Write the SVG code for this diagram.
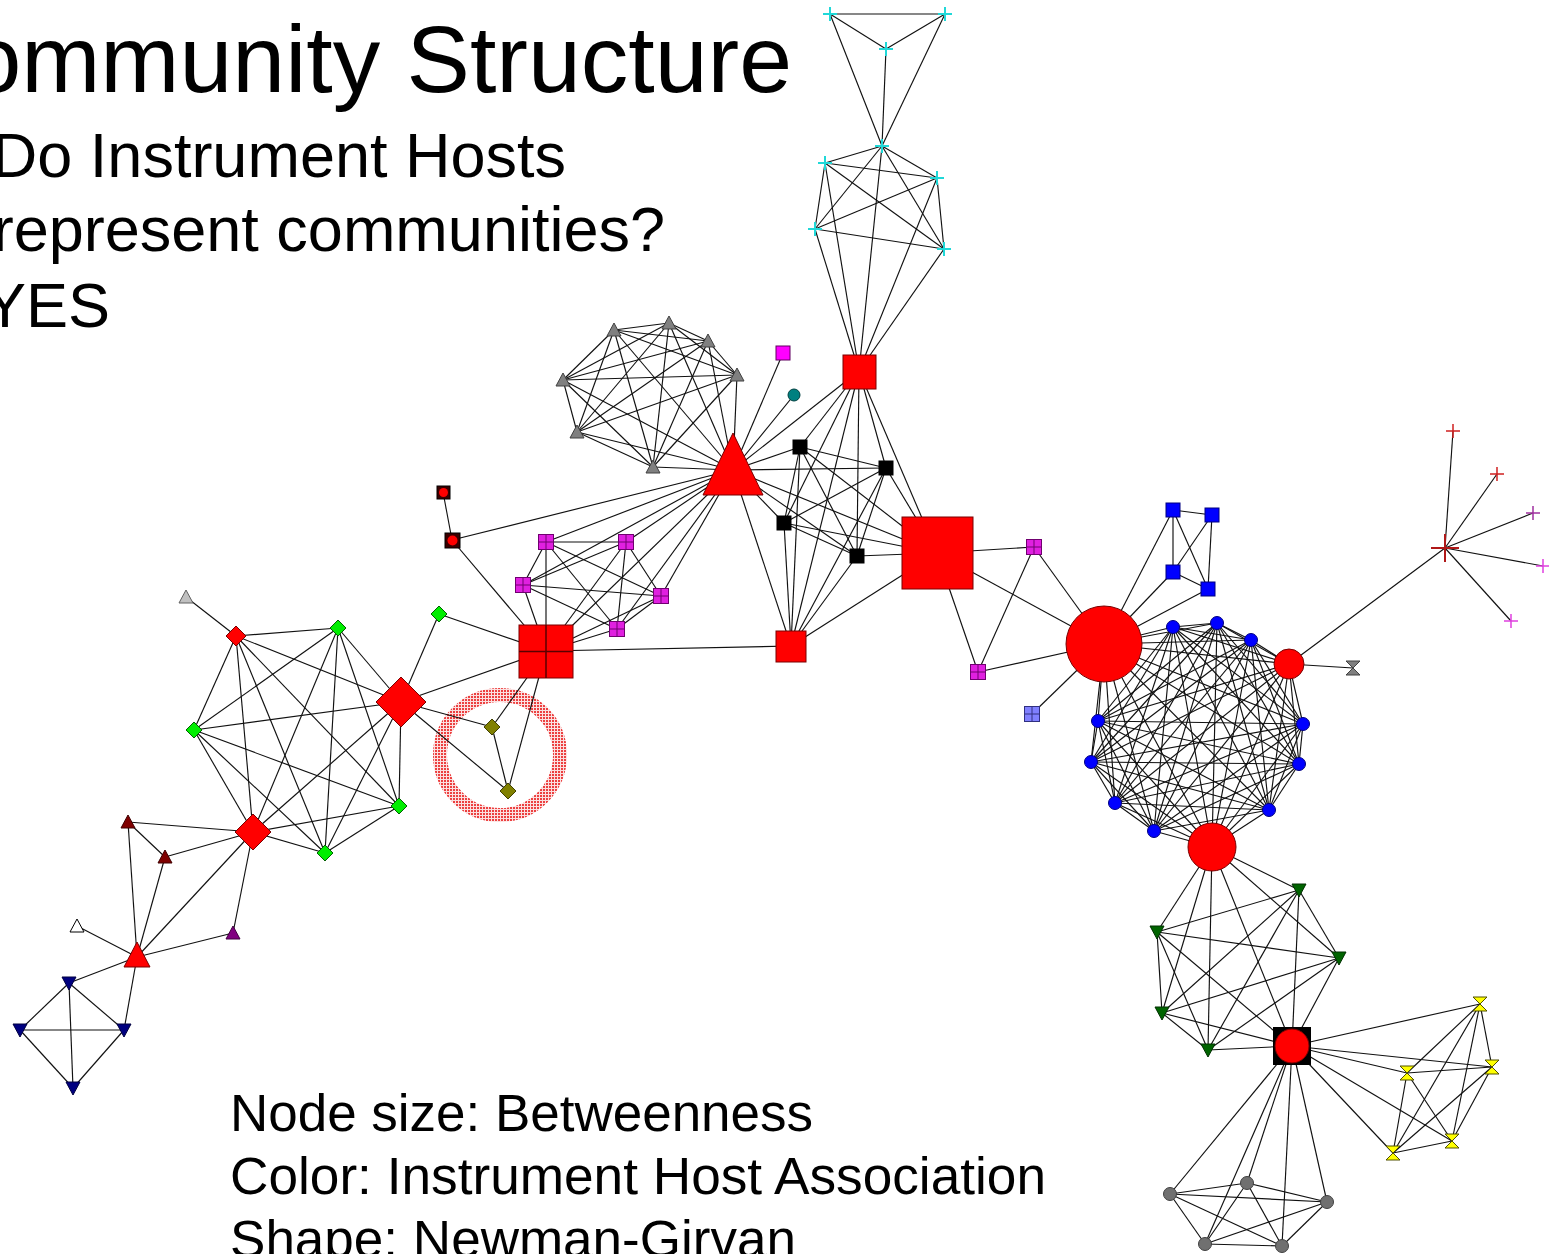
<svg xmlns="http://www.w3.org/2000/svg" width="1549" height="1254" viewBox="0 0 1549 1254">
<style>
text{font-family:"Liberation Sans",Arial,sans-serif;fill:#000}
.title{font-size:95px}
.sub{font-size:63px}
.leg{font-size:51px}
#connectors path{stroke:#111;stroke-width:1.15;fill:none}
.red{fill:#ff0000;stroke:#7a0000;stroke-width:1}
.gray{fill:#808080;stroke:#404040;stroke-width:1}
.lgray{fill:#c0c0c0;stroke:#606060;stroke-width:1}
.white{fill:#fff;stroke:#000;stroke-width:1}
.blk{fill:#000;stroke:#000;stroke-width:1}
.mag{fill:#ff00ff;stroke:#600060;stroke-width:1}
.gmag{fill:#e020e0;stroke:#700070;stroke-width:1}
.peri{fill:#8080ff;stroke:#303080;stroke-width:1}
.teal{fill:#008080;stroke:#004040;stroke-width:1}
.grn{fill:#00ee00;stroke:#006000;stroke-width:1}
.olive{fill:#808000;stroke:#404000;stroke-width:1}
.dred{fill:#800000;stroke:#400000;stroke-width:1}
.purp{fill:#800080;stroke:#400040;stroke-width:1}
.navy{fill:#000080;stroke:#000040;stroke-width:1}
.blue{fill:#0000ff;stroke:#000080;stroke-width:1}
.dgrn{fill:#006400;stroke:#003000;stroke-width:1}
.yel{fill:#ffff00;stroke:#505000;stroke-width:1}
.gcir{fill:#707070;stroke:#404040;stroke-width:1}
.cyan{stroke:#20d8d8;stroke-width:2;fill:none}
.xdr{stroke:#b01818;stroke-width:2;fill:none}
.xr{stroke:#d02020;stroke-width:1.5;fill:none}
.xp{stroke:#a030a0;stroke-width:1.5;fill:none}
.xm{stroke:#e040e0;stroke-width:1.5;fill:none}
</style>
<defs>
<pattern id="dots" width="3" height="3" patternUnits="userSpaceOnUse"><rect width="3" height="3" fill="#fbe0e0"/><rect width="2" height="2" fill="#ec4040"/></pattern>
<path id="triU" d="M0,-7L7,6H-7Z"/>
<path id="triD" d="M-7,-6H7L0,7Z"/>
<path id="dia" d="M0,-8L8,0L0,8L-8,0Z"/>
<path id="hg" d="M-7,-7H7L-7,7H7Z"/>
<path id="plus" d="M-7,0H7M0,-7V7"/>
<g id="gsq"><rect x="-7.5" y="-7.5" width="15" height="15"/><path d="M-7.5,0H7.5M0,-7.5V7.5" fill="none"/></g>
</defs>
<rect width="1549" height="1254" fill="#fff"/>

<g id="labels">
<text class="title" x="792" y="92" text-anchor="end">ommunity Structure</text>
<text class="sub" x="566" y="177" text-anchor="end">Do Instrument Hosts</text>
<text class="sub" x="665" y="251" text-anchor="end">represent communities?</text>
<text class="sub" x="110" y="327" text-anchor="end">YES</text>
<text class="leg" x="230" y="1131" textLength="583" lengthAdjust="spacingAndGlyphs">Node size: Betweenness</text>
<text class="leg" x="230" y="1194" textLength="816" lengthAdjust="spacingAndGlyphs">Color: Instrument Host Association</text>
<text class="leg" x="230" y="1257" textLength="566" lengthAdjust="spacingAndGlyphs">Shape: Newman-Girvan</text>
</g>

<g id="highlight-ring"><circle cx="500" cy="755" r="60" fill="none" stroke="url(#dots)" stroke-width="14"/></g>

<g id="connectors">
<path d="M830 14L945 14"/><path d="M830 14L886 49"/><path d="M945 14L886 49"/><path d="M830 14L882 146"/><path d="M945 14L882 146"/><path d="M886 49L882 146"/>
<path d="M882 146L825 163"/><path d="M882 146L937 178"/><path d="M882 146L815 229"/><path d="M882 146L944 249"/><path d="M825 163L937 178"/><path d="M825 163L815 229"/><path d="M825 163L944 249"/><path d="M937 178L815 229"/><path d="M937 178L944 249"/><path d="M815 229L944 249"/>
<path d="M882 146L859 371"/><path d="M825 163L859 371"/><path d="M937 178L859 371"/><path d="M815 229L859 371"/><path d="M944 249L859 371"/>
<path d="M614 330L669 323"/><path d="M614 330L708 341"/><path d="M614 330L737 375"/><path d="M614 330L563 380"/><path d="M614 330L577 432"/><path d="M614 330L653 467"/>
<path d="M669 323L708 341"/><path d="M669 323L737 375"/><path d="M669 323L563 380"/><path d="M669 323L577 432"/><path d="M669 323L653 467"/>
<path d="M708 341L737 375"/><path d="M708 341L563 380"/><path d="M708 341L577 432"/><path d="M708 341L653 467"/>
<path d="M737 375L563 380"/><path d="M737 375L577 432"/><path d="M737 375L653 467"/><path d="M563 380L577 432"/><path d="M563 380L653 467"/><path d="M577 432L653 467"/>
<path d="M614 330L733 470"/><path d="M669 323L733 470"/><path d="M708 341L733 470"/><path d="M737 375L733 470"/><path d="M563 380L733 470"/><path d="M577 432L733 470"/><path d="M653 467L733 470"/>
<path d="M733 470L783 353"/><path d="M733 470L794 395"/><path d="M733 470L859 371"/><path d="M733 470L800 447"/><path d="M733 470L886 468"/><path d="M733 470L784 523"/><path d="M733 470L857 556"/><path d="M733 470L937 553"/><path d="M733 470L791 646"/><path d="M733 470L452 540"/><path d="M733 470L546 542"/><path d="M733 470L626 542"/><path d="M733 470L523 585"/><path d="M733 470L661 596"/><path d="M733 470L617 629"/><path d="M733 470L546 651"/>
<path d="M859 371L800 447"/><path d="M859 371L886 468"/><path d="M859 371L784 523"/><path d="M859 371L857 556"/><path d="M859 371L937 553"/><path d="M859 371L791 646"/>
<path d="M800 447L886 468"/><path d="M800 447L784 523"/><path d="M800 447L857 556"/><path d="M886 468L784 523"/><path d="M886 468L857 556"/><path d="M784 523L857 556"/>
<path d="M800 447L937 553"/><path d="M886 468L937 553"/><path d="M784 523L937 553"/><path d="M857 556L937 553"/>
<path d="M800 447L791 646"/><path d="M886 468L791 646"/><path d="M784 523L791 646"/><path d="M857 556L791 646"/>
<path d="M937 553L791 646"/><path d="M937 553L1034 547"/><path d="M937 553L978 672"/><path d="M937 553L1104 644"/><path d="M1034 547L978 672"/><path d="M1034 547L1104 644"/><path d="M978 672L1104 644"/><path d="M791 646L546 651"/>
<path d="M546 542L626 542"/><path d="M546 542L523 585"/><path d="M546 542L661 596"/><path d="M546 542L617 629"/><path d="M626 542L523 585"/><path d="M626 542L661 596"/><path d="M626 542L617 629"/><path d="M523 585L661 596"/><path d="M523 585L617 629"/><path d="M661 596L617 629"/>
<path d="M546 651L546 542"/><path d="M546 651L626 542"/><path d="M546 651L523 585"/><path d="M546 651L661 596"/><path d="M546 651L617 629"/>
<path d="M443 492L452 540"/><path d="M452 540L546 651"/><path d="M439 614L546 651"/><path d="M439 614L401 702"/><path d="M546 651L401 702"/><path d="M546 651L492 727"/><path d="M546 651L508 791"/><path d="M492 727L508 791"/><path d="M401 702L492 727"/><path d="M401 702L508 791"/>
<path d="M186 597L236 636"/><path d="M236 636L338 628"/><path d="M236 636L194 730"/><path d="M236 636L401 702"/><path d="M236 636L399 806"/><path d="M236 636L253 832"/><path d="M236 636L325 853"/>
<path d="M338 628L194 730"/><path d="M338 628L401 702"/><path d="M338 628L399 806"/><path d="M338 628L253 832"/><path d="M338 628L325 853"/>
<path d="M194 730L401 702"/><path d="M194 730L399 806"/><path d="M194 730L253 832"/><path d="M194 730L325 853"/>
<path d="M401 702L399 806"/><path d="M401 702L253 832"/><path d="M401 702L325 853"/><path d="M399 806L253 832"/><path d="M399 806L325 853"/><path d="M253 832L325 853"/>
<path d="M128 822L253 832"/><path d="M128 822L165 857"/><path d="M128 822L137 957"/><path d="M165 857L253 832"/><path d="M165 857L137 957"/><path d="M253 832L137 957"/><path d="M253 832L233 933"/><path d="M233 933L137 957"/><path d="M77 926L137 957"/><path d="M137 957L69 983"/><path d="M137 957L124 1030"/>
<path d="M69 983L20 1030"/><path d="M69 983L124 1030"/><path d="M69 983L73 1088"/><path d="M20 1030L124 1030"/><path d="M20 1030L73 1088"/><path d="M124 1030L73 1088"/>
<path d="M1173 510L1212 515"/><path d="M1173 510L1173 572"/><path d="M1173 510L1208 589"/><path d="M1212 515L1173 572"/><path d="M1212 515L1208 589"/><path d="M1173 572L1208 589"/>
<path d="M1104 644L1173 510"/><path d="M1104 644L1173 572"/><path d="M1104 644L1208 589"/><path d="M1104 644L1032 714"/>
<path d="M1104 644L1173 627"/><path d="M1104 644L1217 623"/><path d="M1104 644L1251 640"/><path d="M1104 644L1289 664"/><path d="M1104 644L1303 724"/><path d="M1104 644L1299 764"/><path d="M1104 644L1269 810"/><path d="M1104 644L1212 847"/><path d="M1104 644L1154 831"/><path d="M1104 644L1115 803"/><path d="M1104 644L1091 762"/><path d="M1104 644L1098 721"/>
<path d="M1173 627L1217 623"/><path d="M1173 627L1251 640"/><path d="M1173 627L1289 664"/><path d="M1173 627L1303 724"/><path d="M1173 627L1299 764"/><path d="M1173 627L1269 810"/><path d="M1173 627L1212 847"/><path d="M1173 627L1154 831"/><path d="M1173 627L1115 803"/><path d="M1173 627L1091 762"/><path d="M1173 627L1098 721"/>
<path d="M1217 623L1251 640"/><path d="M1217 623L1289 664"/><path d="M1217 623L1303 724"/><path d="M1217 623L1299 764"/><path d="M1217 623L1269 810"/><path d="M1217 623L1212 847"/><path d="M1217 623L1154 831"/><path d="M1217 623L1115 803"/><path d="M1217 623L1091 762"/><path d="M1217 623L1098 721"/>
<path d="M1251 640L1289 664"/><path d="M1251 640L1303 724"/><path d="M1251 640L1299 764"/><path d="M1251 640L1269 810"/><path d="M1251 640L1212 847"/><path d="M1251 640L1154 831"/><path d="M1251 640L1115 803"/><path d="M1251 640L1091 762"/><path d="M1251 640L1098 721"/>
<path d="M1289 664L1303 724"/><path d="M1289 664L1299 764"/><path d="M1289 664L1269 810"/><path d="M1289 664L1212 847"/><path d="M1289 664L1154 831"/><path d="M1289 664L1115 803"/><path d="M1289 664L1091 762"/><path d="M1289 664L1098 721"/>
<path d="M1303 724L1299 764"/><path d="M1303 724L1269 810"/><path d="M1303 724L1212 847"/><path d="M1303 724L1154 831"/><path d="M1303 724L1115 803"/><path d="M1303 724L1091 762"/><path d="M1303 724L1098 721"/>
<path d="M1299 764L1269 810"/><path d="M1299 764L1212 847"/><path d="M1299 764L1154 831"/><path d="M1299 764L1115 803"/><path d="M1299 764L1091 762"/><path d="M1299 764L1098 721"/>
<path d="M1269 810L1212 847"/><path d="M1269 810L1154 831"/><path d="M1269 810L1115 803"/><path d="M1269 810L1091 762"/><path d="M1269 810L1098 721"/>
<path d="M1212 847L1154 831"/><path d="M1212 847L1115 803"/><path d="M1212 847L1091 762"/><path d="M1212 847L1098 721"/>
<path d="M1154 831L1115 803"/><path d="M1154 831L1091 762"/><path d="M1154 831L1098 721"/><path d="M1115 803L1091 762"/><path d="M1115 803L1098 721"/><path d="M1091 762L1098 721"/>
<path d="M1289 664L1445 548"/><path d="M1289 664L1353 668"/><path d="M1445 548L1453 431"/><path d="M1445 548L1497 474"/><path d="M1445 548L1533 513"/><path d="M1445 548L1543 566"/><path d="M1445 548L1511 621"/>
<path d="M1212 847L1299 890"/><path d="M1212 847L1157 932"/><path d="M1212 847L1339 958"/><path d="M1212 847L1162 1013"/><path d="M1212 847L1208 1050"/><path d="M1212 847L1292 1046"/>
<path d="M1299 890L1157 932"/><path d="M1299 890L1339 958"/><path d="M1299 890L1162 1013"/><path d="M1299 890L1208 1050"/><path d="M1299 890L1292 1046"/>
<path d="M1157 932L1339 958"/><path d="M1157 932L1162 1013"/><path d="M1157 932L1208 1050"/><path d="M1157 932L1292 1046"/>
<path d="M1339 958L1162 1013"/><path d="M1339 958L1208 1050"/><path d="M1339 958L1292 1046"/><path d="M1162 1013L1208 1050"/><path d="M1162 1013L1292 1046"/><path d="M1208 1050L1292 1046"/>
<path d="M1292 1046L1480 1004"/><path d="M1292 1046L1492 1067"/><path d="M1292 1046L1407 1073"/><path d="M1292 1046L1452 1141"/><path d="M1292 1046L1393 1153"/>
<path d="M1480 1004L1492 1067"/><path d="M1480 1004L1407 1073"/><path d="M1480 1004L1452 1141"/><path d="M1480 1004L1393 1153"/><path d="M1492 1067L1407 1073"/><path d="M1492 1067L1452 1141"/><path d="M1492 1067L1393 1153"/><path d="M1407 1073L1452 1141"/><path d="M1407 1073L1393 1153"/><path d="M1452 1141L1393 1153"/>
<path d="M1292 1046L1170 1194"/><path d="M1292 1046L1247 1183"/><path d="M1292 1046L1327 1202"/><path d="M1292 1046L1205 1244"/><path d="M1292 1046L1282 1246"/>
<path d="M1170 1194L1247 1183"/><path d="M1170 1194L1327 1202"/><path d="M1170 1194L1205 1244"/><path d="M1170 1194L1282 1246"/><path d="M1247 1183L1327 1202"/><path d="M1247 1183L1205 1244"/><path d="M1247 1183L1282 1246"/><path d="M1327 1202L1205 1244"/><path d="M1327 1202L1282 1246"/><path d="M1205 1244L1282 1246"/>
</g>

<g id="nodes">
<g id="c1"><use href="#plus" x="830" y="14" class="cyan"/></g>
<g id="c2"><use href="#plus" x="945" y="14" class="cyan"/></g>
<g id="c3"><use href="#plus" x="886" y="49" class="cyan"/></g>
<g id="c4"><use href="#plus" x="882" y="146" class="cyan"/></g>
<g id="c5"><use href="#plus" x="825" y="163" class="cyan"/></g>
<g id="c6"><use href="#plus" x="937" y="178" class="cyan"/></g>
<g id="c7"><use href="#plus" x="815" y="229" class="cyan"/></g>
<g id="c8"><use href="#plus" x="944" y="249" class="cyan"/></g>
<g id="r-top"><rect x="843" y="355" width="33" height="34" class="red"/></g>

<g id="g1"><use href="#triU" x="614" y="330" class="gray"/></g>
<g id="g2"><use href="#triU" x="669" y="323" class="gray"/></g>
<g id="g3"><use href="#triU" x="708" y="341" class="gray"/></g>
<g id="g4"><use href="#triU" x="737" y="375" class="gray"/></g>
<g id="g5"><use href="#triU" x="563" y="380" class="gray"/></g>
<g id="g6"><use href="#triU" x="577" y="432" class="gray"/></g>
<g id="g7"><use href="#triU" x="653" y="467" class="gray"/></g>
<g id="r-tri"><path d="M733,433L763,495H703Z" class="red"/></g>

<g id="m-top"><rect x="776" y="346" width="14" height="14" class="mag"/></g>
<g id="teal"><circle cx="794" cy="395" r="6" class="teal"/></g>
<g id="b1"><rect x="793" y="440" width="14" height="14" class="blk"/></g>
<g id="b2"><rect x="879" y="461" width="14" height="14" class="blk"/></g>
<g id="b3"><rect x="777" y="516" width="14" height="14" class="blk"/></g>
<g id="b4"><rect x="850" y="549" width="14" height="14" class="blk"/></g>
<g id="r-big"><rect x="902" y="517" width="71" height="72" class="red"/></g>
<g id="r-mid"><rect x="776" y="631" width="30" height="31" class="red"/></g>
<g id="m6"><use href="#gsq" x="1034" y="547" class="gmag"/></g>
<g id="m7"><use href="#gsq" x="978" y="672" class="gmag"/></g>

<g id="m1"><use href="#gsq" x="546" y="542" class="gmag"/></g>
<g id="m2"><use href="#gsq" x="626" y="542" class="gmag"/></g>
<g id="m3"><use href="#gsq" x="523" y="585" class="gmag"/></g>
<g id="m4"><use href="#gsq" x="661" y="596" class="gmag"/></g>
<g id="m5"><use href="#gsq" x="617" y="629" class="gmag"/></g>
<g id="r-grid"><rect x="519" y="625" width="54" height="53" class="red"/><path d="M519,651.5H573M546,625V678" stroke="#5a0000" stroke-width="1.5" fill="none"/></g>
<g id="d1"><rect x="437" y="486" width="13" height="13" fill="#3a0000" stroke="#000"/><circle cx="443.5" cy="492.5" r="4.5" fill="#ff0000"/></g>
<g id="d2"><rect x="445" y="533" width="15" height="15" fill="#3a0000" stroke="#000"/><circle cx="452.5" cy="540.5" r="5" fill="#ff0000"/></g>
<g id="gb"><use href="#dia" x="439" y="614" class="grn"/></g>

<g id="gt"><use href="#triU" x="186" y="597" class="lgray"/></g>
<g id="rd1"><path d="M236,626L246,636L236,646L226,636Z" class="red"/></g>
<g id="ga"><use href="#dia" x="338" y="628" class="grn"/></g>
<g id="rd2"><path d="M401,677L426,702L401,727L376,702Z" class="red"/></g>
<g id="gc"><use href="#dia" x="194" y="730" class="grn"/></g>
<g id="gd"><use href="#dia" x="399" y="806" class="grn"/></g>
<g id="rd3"><path d="M253,814L271,832L253,850L235,832Z" class="red"/></g>
<g id="ge"><use href="#dia" x="325" y="853" class="grn"/></g>
<g id="o1"><use href="#dia" x="492" y="727" class="olive"/></g>
<g id="o2"><use href="#dia" x="508" y="791" class="olive"/></g>

<g id="dt1"><use href="#triU" x="128" y="822" class="dred"/></g>
<g id="dt2"><use href="#triU" x="165" y="857" class="dred"/></g>
<g id="wt"><use href="#triU" x="77" y="926" class="white"/></g>
<g id="r-tri2"><path d="M137,942L150,967H124Z" class="red"/></g>
<g id="pt"><use href="#triU" x="233" y="933" class="purp"/></g>
<g id="n1"><use href="#triD" x="69" y="983" class="navy"/></g>
<g id="n2"><use href="#triD" x="20" y="1030" class="navy"/></g>
<g id="n3"><use href="#triD" x="124" y="1030" class="navy"/></g>
<g id="n4"><use href="#triD" x="73" y="1088" class="navy"/></g>

<g id="bs1"><rect x="1166" y="503" width="14" height="14" class="blue"/></g>
<g id="bs2"><rect x="1205" y="508" width="14" height="14" class="blue"/></g>
<g id="bs3"><rect x="1166" y="565" width="14" height="14" class="blue"/></g>
<g id="bs4"><rect x="1201" y="582" width="14" height="14" class="blue"/></g>
<g id="pw"><use href="#gsq" x="1032" y="714" class="peri"/></g>
<g id="bc1"><circle cx="1173" cy="627" r="6.5" class="blue"/></g>
<g id="bc2"><circle cx="1217" cy="623" r="6.5" class="blue"/></g>
<g id="bc3"><circle cx="1251" cy="640" r="6.5" class="blue"/></g>
<g id="bc4"><circle cx="1303" cy="724" r="6.5" class="blue"/></g>
<g id="bc5"><circle cx="1299" cy="764" r="6.5" class="blue"/></g>
<g id="bc6"><circle cx="1269" cy="810" r="6.5" class="blue"/></g>
<g id="bc7"><circle cx="1154" cy="831" r="6.5" class="blue"/></g>
<g id="bc8"><circle cx="1115" cy="803" r="6.5" class="blue"/></g>
<g id="bc9"><circle cx="1091" cy="762" r="6.5" class="blue"/></g>
<g id="bc10"><circle cx="1098" cy="721" r="6.5" class="blue"/></g>
<g id="r-circ-big"><circle cx="1104" cy="644" r="38" class="red"/></g>
<g id="r-circ2"><circle cx="1289" cy="664" r="15" class="red"/></g>
<g id="r-circ3"><circle cx="1212" cy="847" r="24" class="red"/></g>

<g id="x0"><path d="M1431,548H1459M1445,534V562" class="xdr"/></g>
<g id="x1"><use href="#plus" x="1453" y="431" class="xr"/></g>
<g id="x2"><use href="#plus" x="1497" y="474" class="xr"/></g>
<g id="x3"><use href="#plus" x="1533" y="513" class="xp"/></g>
<g id="x4"><use href="#plus" x="1543" y="566" class="xm"/></g>
<g id="x5"><use href="#plus" x="1511" y="621" class="xm"/></g>
<g id="hg-gray"><use href="#hg" x="1353" y="668" class="gray"/></g>

<g id="t1"><use href="#triD" x="1299" y="890" class="dgrn"/></g>
<g id="t2"><use href="#triD" x="1157" y="932" class="dgrn"/></g>
<g id="t3"><use href="#triD" x="1339" y="958" class="dgrn"/></g>
<g id="t4"><use href="#triD" x="1162" y="1013" class="dgrn"/></g>
<g id="t5"><use href="#triD" x="1208" y="1050" class="dgrn"/></g>
<g id="hub"><rect x="1273" y="1027" width="38" height="38" fill="#000"/><circle cx="1292" cy="1046" r="17" class="red"/></g>

<g id="y1"><use href="#hg" x="1480" y="1004" class="yel"/></g>
<g id="y2"><use href="#hg" x="1492" y="1067" class="yel"/></g>
<g id="y3"><use href="#hg" x="1407" y="1073" class="yel"/></g>
<g id="y4"><use href="#hg" x="1452" y="1141" class="yel"/></g>
<g id="y5"><use href="#hg" x="1393" y="1153" class="yel"/></g>

<g id="gc1"><circle cx="1170" cy="1194" r="6.5" class="gcir"/></g>
<g id="gc2"><circle cx="1247" cy="1183" r="6.5" class="gcir"/></g>
<g id="gc3"><circle cx="1327" cy="1202" r="6.5" class="gcir"/></g>
<g id="gc4"><circle cx="1205" cy="1244" r="6.5" class="gcir"/></g>
<g id="gc5"><circle cx="1282" cy="1246" r="6.5" class="gcir"/></g>
</g>
</svg>
